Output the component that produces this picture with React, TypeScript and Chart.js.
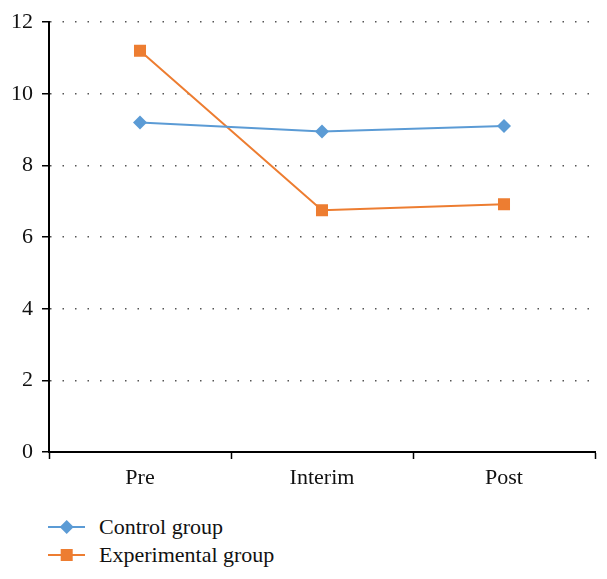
import React, { useEffect, useRef } from "react";
import { Chart, registerables } from "chart.js";

Chart.register(...registerables);

const categories = ["Pre", "Interim", "Post"];
const controlValues = [9.2, 8.95, 9.1];
const experimentalValues = [11.2, 6.75, 6.92];
const seriesNames = ["Control group", "Experimental group"];
const yTicks = [0, 2, 4, 6, 8, 10, 12];

const BLUE = "#5B9BD5";
const ORANGE = "#ED7D31";
const FONT = "'Liberation Serif', 'Times New Roman', serif";

export default function App() {
  const canvasRef = useRef<HTMLCanvasElement | null>(null);

  useEffect(() => {
    const canvas = canvasRef.current;
    if (!canvas) return;
    const chart = new Chart(canvas, {
      type: "line",
      data: {
        labels: categories,
        datasets: [
          {
            label: seriesNames[0],
            data: controlValues,
            borderColor: BLUE,
            backgroundColor: BLUE,
            borderWidth: 2,
            pointStyle: "rectRot",
            pointRadius: 7,
            pointBorderWidth: 0,
            pointBackgroundColor: BLUE,
            tension: 0,
          },
          {
            label: seriesNames[1],
            data: experimentalValues,
            borderColor: ORANGE,
            backgroundColor: ORANGE,
            borderWidth: 2,
            pointStyle: "rect",
            pointRadius: 8.5,
            pointBorderWidth: 0,
            pointBackgroundColor: ORANGE,
            tension: 0,
          },
        ],
      },
      options: {
        animation: false,
        responsive: false,
        maintainAspectRatio: false,
        layout: { padding: { left: 0, right: 12, top: 22, bottom: 0 } },
        plugins: {
          legend: { display: false },
          tooltip: { enabled: false },
        },
        scales: {
          x: {
            type: "category",
            offset: true,
            grid: {
              offset: true,
              drawOnChartArea: false,
              drawTicks: true,
              tickLength: 7,
              tickColor: "#000",
              tickWidth: 1.5,
            },
            border: { display: true, color: "#000", width: 2 },
            ticks: {
              color: "#111",
              font: { family: FONT, size: 22 },
              padding: 6,
              maxRotation: 0,
            },
            afterFit: (scale: any) => {
              scale.height = 48;
            },
          },
          y: {
            min: 0,
            max: 12,
            afterBuildTicks: (scale: any) => {
              scale.ticks = yTicks.map((v) => ({ value: v }));
            },
            grid: {
              color: (ctx: any) =>
                ctx.tick && ctx.tick.value === 0 ? "rgba(0,0,0,0)" : "#555",
              lineWidth: 1.5,
              drawTicks: true,
              tickLength: 7,
              tickColor: "#000",
              tickWidth: 1.5,
              tickBorderDash: [],
            },
            border: { display: true, color: "#000", width: 2, dash: [1.5, 11] },
            ticks: {
              color: "#111",
              font: { family: FONT, size: 22 },
              padding: 9,
            },
            afterFit: (scale: any) => {
              scale.width = 49;
            },
          },
        },
      },
    });
    return () => chart.destroy();
  }, []);

  const legendRow = (name: string, color: string, shape: "diamond" | "square", top: number) => (
    <div
      key={name}
      style={{
        position: "absolute",
        left: 46,
        top: top - 14,
        height: 28,
        display: "flex",
        alignItems: "center",
      }}
    >
      <svg width={42} height={28} style={{ display: "block" }}>
        <line x1={2} y1={14} x2={39} y2={14} stroke={color} strokeWidth={2} />
        {shape === "diamond" ? (
          <polygon points="20.7,7 27.7,14 20.7,21 13.7,14" fill={color} />
        ) : (
          <rect x={14.7} y={8} width={12} height={12} fill={color} />
        )}
      </svg>
      <span
        style={{
          marginLeft: 11,
          fontFamily: FONT,
          fontSize: 22,
          color: "#111",
          whiteSpace: "nowrap",
          lineHeight: "28px",
        }}
      >
        {name}
      </span>
    </div>
  );

  return (
    <div
      style={{
        position: "fixed",
        left: 0,
        top: 0,
        width: 607,
        height: 579,
        background: "#fff",
        overflow: "hidden",
      }}
    >
      <canvas ref={canvasRef} width={607} height={500} style={{ display: "block" }} />
      {legendRow(seriesNames[0], BLUE, "diamond", 527)}
      {legendRow(seriesNames[1], ORANGE, "square", 555)}
    </div>
  );
}
